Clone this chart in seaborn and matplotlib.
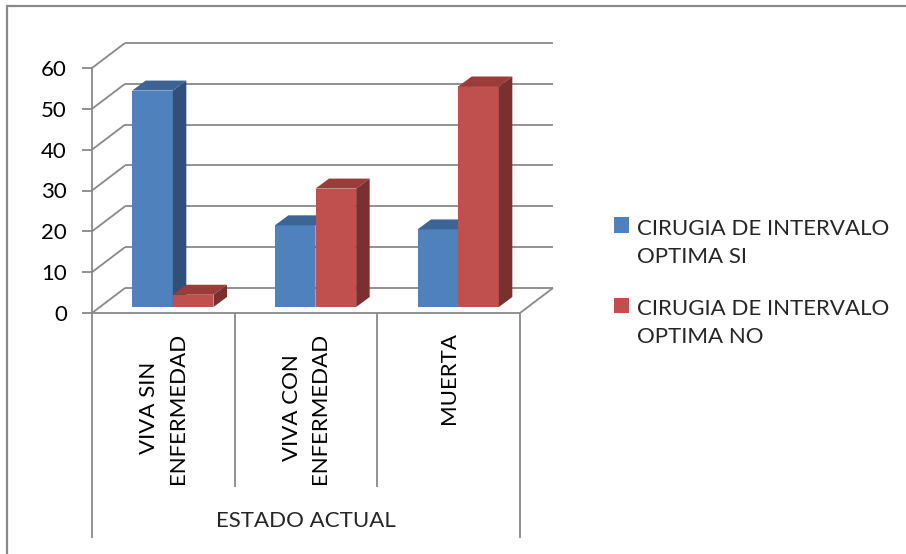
import matplotlib
matplotlib.use("Agg")
import matplotlib.pyplot as plt
import matplotlib.transforms as mtransforms
from matplotlib.patches import Polygon, Rectangle
from matplotlib.lines import Line2D
import pandas as pd
import seaborn as sns

# ---- data ----
estados = ["VIVA SIN\nENFERMEDAD", "VIVA CON\nENFERMEDAD", "MUERTA"]
series = ["CIRUGIA DE INTERVALO\nOPTIMA SI", "CIRUGIA DE INTERVALO\nOPTIMA NO"]
optima_si = [53, 20, 19]
optima_no = [3, 29, 54]
y_ticks = [0, 10, 20, 30, 40, 50, 60]
eje_x = "ESTADO ACTUAL"

# ---- style ----
colores_frente = ["#4F81BD", "#C0504D"]
colores_arriba = ["#3C6595", "#9A3D3A"]
colores_lado = ["#30507A", "#7A302E"]
gris = "#898989"
FS = 16

sns.set_style("white")
plt.rcParams["font.family"] = ["Lato", "DejaVu Sans"]

W, H, DPI = 906, 554, 100
fig = plt.figure(figsize=(W / DPI, H / DPI), dpi=DPI)

# front plane of the plot box, in pixels
L, R, T, B = 92, 520, 68, 313
ax = fig.add_axes([L / W, 1 - B / H, (R - L) / W, (B - T) / H])

df = pd.DataFrame({
    "estado": estados * 2,
    "serie": [series[0]] * len(estados) + [series[1]] * len(estados),
    "valor": optima_si + optima_no,
})
sns.barplot(data=df, x="estado", y="valor", hue="serie",
            palette=colores_frente, saturation=1, width=0.57,
            linewidth=0, legend=False, ax=ax)
ax.set_xlim(-0.5, 2.5)
ax.set_ylim(0, 60)

# pixel offsets -> data units for the oblique depth
ux = 3 / (R - L)
uy = 60 / (B - T)
WX, WY = 33 * ux, 25 * uy      # depth of the back wall
FX, FY = 9.5 * ux, 6 * uy      # front face of the columns
BX, BY = 13.5 * ux, 10 * uy    # depth of each column

line_kw = dict(color=gris, lw=1.3, clip_on=False, zorder=1, solid_capstyle="butt")

# back wall gridlines and left wall diagonals
for y in y_ticks:
    ax.plot([-0.5 + WX, 2.5 + WX], [y + WY, y + WY], **line_kw)
    ax.plot([-0.5, -0.5 + WX], [y, y + WY], **line_kw)
# right edge of the floor
ax.plot([2.5, 2.5 + WX], [0, WY], **line_kw)

# columns: shift the front faces back and add top / side faces
for k, cont in enumerate(ax.containers):
    for bar in cont:
        x0 = bar.get_x() + FX
        w = bar.get_width()
        h = bar.get_height()
        x1 = x0 + w
        bar.set_x(x0)
        bar.set_y(FY)
        bar.set_zorder(3 + 2 * k)
        bar.set_clip_on(False)
        top = Polygon([(x0, FY + h), (x1, FY + h), (x1 + BX, FY + h + BY), (x0 + BX, FY + h + BY)],
                      closed=True, facecolor=colores_arriba[k], edgecolor="none",
                      zorder=3 + 2 * k, clip_on=False)
        side = Polygon([(x1, FY), (x1, FY + h), (x1 + BX, FY + h + BY), (x1 + BX, FY + BY)],
                       closed=True, facecolor=colores_lado[k], edgecolor="none",
                       zorder=3 + 2 * k, clip_on=False)
        ax.add_patch(top)
        ax.add_patch(side)

# axes lines
sns.despine(ax=ax, top=True, right=True)
for s in ("left", "bottom"):
    ax.spines[s].set_color(gris)
    ax.spines[s].set_linewidth(1.3)
    ax.spines[s].set_zorder(2)

ax.set_yticks(y_ticks)
ax.set_yticklabels([str(v) for v in y_ticks])
ax.tick_params(axis="y", length=7, width=1.3, color=gris, pad=11,
               labelsize=FS, labelcolor="black", left=True)

ax.set_xticks(range(len(estados)))
ax.set_xticklabels(estados, rotation=90, multialignment="center", linespacing=1.55)
ax.tick_params(axis="x", length=0, pad=14, labelsize=FS, labelcolor="black")

# category dividers below the floor
trans = mtransforms.blended_transform_factory(ax.transData, ax.transAxes)
inner_end = -(487 - B) / (B - T)
outer_end = -(538 - B) / (B - T)
for xb in [0.5, 1.5]:
    ax.plot([xb, xb], [0, inner_end], transform=trans, **line_kw)
for xb in [-0.5, 2.5]:
    ax.plot([xb, xb], [0, outer_end], transform=trans, **line_kw)

ax.set_ylabel("")
ax.set_xlabel(eje_x, fontsize=FS)
ax.xaxis.set_label_coords(0.5, -(521 - B) / (B - T))
ax.xaxis.label.set_va("center")

# legend
for k, (s, c) in enumerate(zip(series, colores_frente)):
    yc = 225 + 80 * k
    fig.add_artist(Rectangle((614 / W, 1 - (yc + 7.5) / H), 15 / W, 15 / H,
                             transform=fig.transFigure, facecolor=c, edgecolor="none"))
    fig.text(637 / W, 1 - (yc + 30 + 8) / H, s, fontsize=FS, va="baseline",
             ha="left", linespacing=1.48)

# chart frame
fig.add_artist(Line2D([7 / W, 7 / W], [0, 1 - 6 / H], transform=fig.transFigure,
                      color=gris, lw=1.6))
fig.add_artist(Line2D([7 / W, 1], [1 - 6 / H, 1 - 6 / H], transform=fig.transFigure,
                      color=gris, lw=1.6))

fig.savefig("out.png", dpi=DPI)
